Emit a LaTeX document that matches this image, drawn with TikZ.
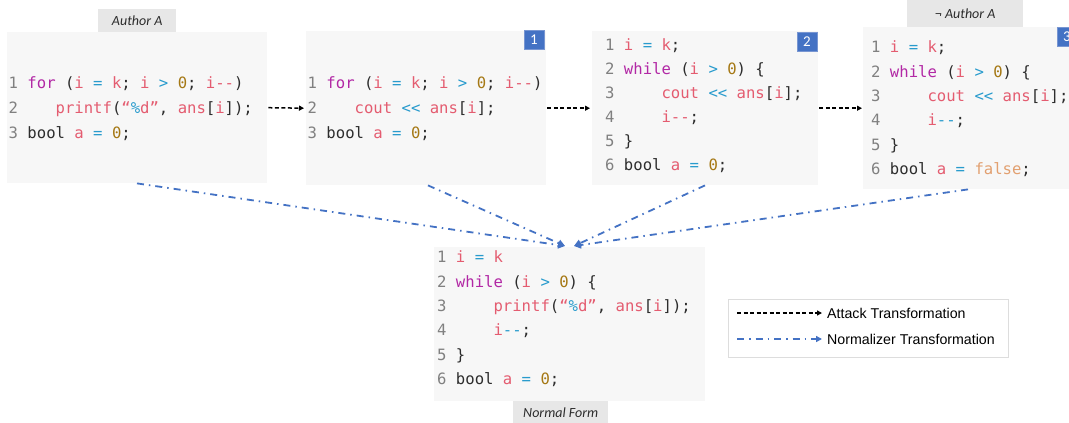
\documentclass[tikz,border=0pt]{standalone}
\usepackage{fontspec}
\usetikzlibrary{arrows.meta}
\newfontfamily\codefont{DejaVu Sans Mono}
\newfontfamily\labfont{Carlito}
\setmainfont{Liberation Sans}
\definecolor{kwc}{RGB}{178,40,165}
\definecolor{varc}{RGB}{228,92,112}
\definecolor{opc}{RGB}{40,155,205}
\definecolor{numc}{RGB}{165,120,20}
\definecolor{falc}{RGB}{226,160,112}
\definecolor{lnc}{RGB}{128,128,128}
\definecolor{txtc}{RGB}{45,45,45}
\definecolor{boxbg}{RGB}{247,247,247}
\definecolor{labbg}{RGB}{231,231,231}
\definecolor{bluec}{RGB}{68,114,196}
\definecolor{badgeb}{RGB}{120,150,210}
\newcommand\lnum[1]{\textcolor{lnc}{#1}}
\newcommand\ckw[1]{\textcolor{kwc}{#1}}
\newcommand\cvar[1]{\textcolor{varc}{#1}}
\newcommand\cop[1]{\textcolor{opc}{#1}}
\newcommand\cnum[1]{\textcolor{numc}{#1}}
\newcommand\cfal[1]{\textcolor{falc}{#1}}
\tikzset{
  codebox/.style={fill=boxbg, draw=none, inner sep=0pt, anchor=north west},
  labbox/.style={fill=labbg, draw=none, inner sep=0pt, text=txtc, font=\labfont\itshape\fontsize{14}{16}\selectfont},
  code/.style={anchor=base west, inner sep=0pt, text=txtc, font=\codefont\fontsize{15.6}{18}\selectfont\frenchspacing},
  badge/.style={fill=bluec, draw=badgeb, line width=0.6pt, text=white, inner sep=0pt, minimum width=20pt, minimum height=19pt, font=\labfont\fontsize{15}{16}\selectfont},
  attack/.style={draw=black, line width=1.5pt, dash pattern=on 4pt off 2.5pt, -{Triangle[length=5pt,width=5pt]}},
  norm/.style={draw=bluec, line width=1.8pt, dash pattern=on 7pt off 5pt on 1.5pt off 5pt, -{Triangle[length=7pt,width=7pt]}},
  legtext/.style={anchor=west, inner sep=0pt, text=black, font=\fontsize{14.2}{16}\selectfont}
}
\begin{document}
\begin{tikzpicture}[x=1pt,y=-1pt]
\path[use as bounding box, fill=white] (0,0) rectangle (1069,423);

% boxes
\node[codebox, minimum width=260pt, minimum height=151pt] (boxA) at (7,32) {};
\node[codebox, minimum width=240pt, minimum height=154pt] (box1) at (306,31) {};
\node[codebox, minimum width=226pt, minimum height=154pt] (box2) at (592,31) {};
\node[codebox, minimum width=215pt, minimum height=162pt] (box3) at (863,27) {};
\node[codebox, minimum width=271pt, minimum height=154pt] (normbox) at (434,247) {};

% labels
\node[labbox, minimum width=78pt, minimum height=23pt, anchor=north west] (labA) at (98,9) {Author A};
\node[labbox, minimum width=116pt, minimum height=27pt, anchor=north west] (labNA) at (907,0) {¬ Author A};
\node[labbox, minimum width=95pt, minimum height=22pt, anchor=north west] (labN) at (513,401) {Normal Form};

% badges
\node[badge] (b1) at (534,40) {1};
\node[badge] (b2) at (807,41.5) {2};
\node[badge] (b3) at (1067,37) {3};

% code A
\node[code] (a1) at (8.5,88.7) {\lnum{1} \ckw{for} (\cvar{i} \cop{=} \cvar{k}; \cvar{i} \cop{>} \cnum{0}; \cvar{i-{}-})};
\node[code] (a2) at (8.5,113.7) {\lnum{2}~~~~\cvar{printf}(\cvar{“}\cop{\%}\cvar{d”}, \cvar{ans}[\cvar{i}]);};
\node[code] (a3) at (8.5,138.7) {\lnum{3} bool \cvar{a} \cop{=} \cnum{0};};

% code 1
\node[code] (c11) at (307.5,88.7) {\lnum{1} \ckw{for} (\cvar{i} \cop{=} \cvar{k}; \cvar{i} \cop{>} \cnum{0}; \cvar{i-{}-})};
\node[code] (c12) at (307.5,113.7) {\lnum{2}~~~~\cvar{cout} \cop{<{}<} \cvar{ans}[\cvar{i}];};
\node[code] (c13) at (307.5,138.7) {\lnum{3} bool \cvar{a} \cop{=} \cnum{0};};

% code 2
\node[code] (c21) at (605,50.7) {\lnum{1} \cvar{i} \cop{=} \cvar{k};};
\node[code] (c22) at (605,74.7) {\lnum{2} \ckw{while} (\cvar{i} \cop{>} \cnum{0}) \{};
\node[code] (c23) at (605,98.7) {\lnum{3}~~~~~\cvar{cout} \cop{<{}<} \cvar{ans}[\cvar{i}];};
\node[code] (c24) at (605,122.7) {\lnum{4}~~~~~\cvar{i-{}-};};
\node[code] (c25) at (605,146.7) {\lnum{5} \}};
\node[code] (c26) at (605,170.7) {\lnum{6} bool \cvar{a} \cop{=} \cnum{0};};

% code 3
\node[code] (c31) at (871,52.7) {\lnum{1} \cvar{i} \cop{=} \cvar{k};};
\node[code] (c32) at (871,77.1) {\lnum{2} \ckw{while} (\cvar{i} \cop{>} \cnum{0}) \{};
\node[code] (c33) at (871,101.5) {\lnum{3}~~~~~\cvar{cout} \cop{<{}<} \cvar{ans}[\cvar{i}];};
\node[code] (c34) at (871,125.9) {\lnum{4}~~~~~\cvar{i}\cop{-{}-};};
\node[code] (c35) at (871,150.3) {\lnum{5} \}};
\node[code] (c36) at (871,174.7) {\lnum{6} bool \cvar{a} \cop{=} \cfal{false};};

% normal form
\node[code] (n1) at (437,262.7) {\lnum{1} \cvar{i} \cop{=} \cvar{k}};
\node[code] (n2) at (437,287.1) {\lnum{2} \ckw{while} (\cvar{i} \cop{>} \cnum{0}) \{};
\node[code] (n3) at (437,311.5) {\lnum{3}~~~~~\cvar{printf}(\cvar{“}\cop{\%}\cvar{d”}, \cvar{ans}[\cvar{i}]);};
\node[code] (n4) at (437,335.9) {\lnum{4}~~~~~\cvar{i}\cop{-{}-};};
\node[code] (n5) at (437,360.3) {\lnum{5} \}};
\node[code] (n6) at (437,384.7) {\lnum{6} bool \cvar{a} \cop{=} \cnum{0};};

% attack transformations
\draw[attack, shorten <=1pt, shorten >=2pt] (boxA.east) -- (box1.west);
\draw[attack, shorten <=1pt, shorten >=2pt] (box1.east) -- (box2.west);
\draw[attack, shorten <=1pt, shorten >=1pt] (box2.east) -- (box3.west);

% normalizer transformations
\draw[norm] ([xshift=130pt]boxA.south west) -- ([xshift=131pt,yshift=1pt]normbox.north west);
\draw[norm] ([xshift=122pt]box1.south west) -- ([xshift=131pt,yshift=1pt]normbox.north west);
\draw[norm] ([xshift=113pt]box2.south west) -- ([xshift=140pt,yshift=1pt]normbox.north west);
\draw[norm] ([xshift=105pt]box3.south west) -- ([xshift=140pt,yshift=1pt]normbox.north west);

% legend
\node[draw={rgb,255:red,221;green,221;blue,221}, fill=white, line width=0.8pt, inner sep=0pt, minimum width=280pt, minimum height=58pt, anchor=north west] (legend) at (728,299) {};
\coordinate (la1) at (737,313);
\coordinate (la2) at (822,313);
\coordinate (lb1) at (737,339);
\coordinate (lb2) at (822,339);
\draw[attack] (la1) -- (la2);
\draw[norm, -{Triangle[length=6pt,width=6pt]}] (lb1) -- (lb2);
\node[legtext] (lt1) at (827,313) {Attack Transformation};
\node[legtext] (lt2) at (827,339) {Normalizer Transformation};
\end{tikzpicture}
\end{document}
